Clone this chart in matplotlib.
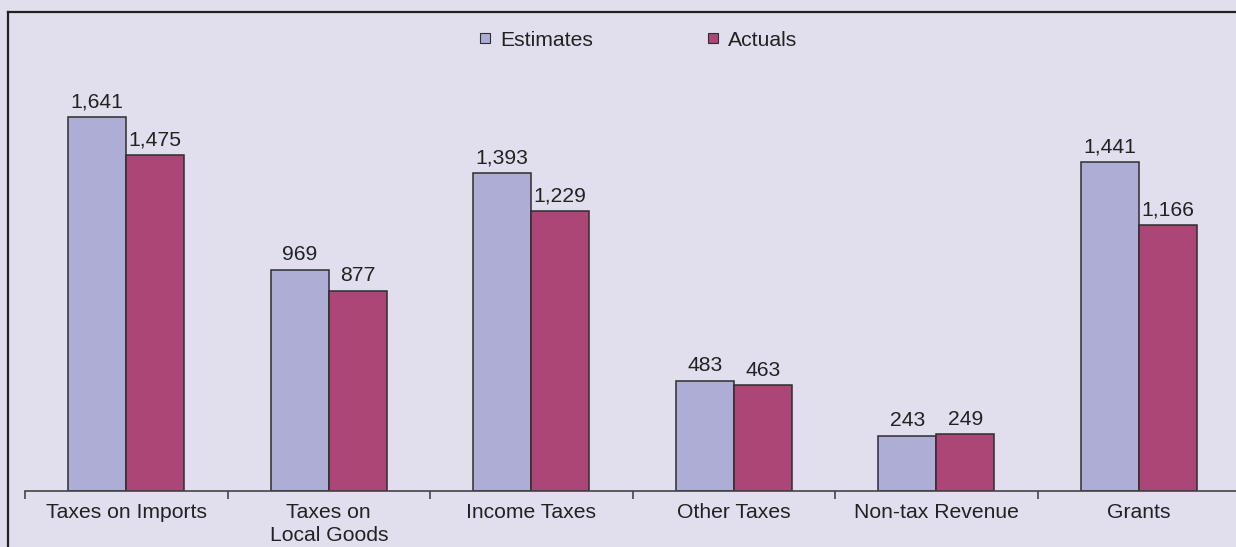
import matplotlib.pyplot as plt
from matplotlib.lines import Line2D
import numpy as np

# --------------------------------------------------
# DATA
# --------------------------------------------------

categories = ["Taxes on Imports", "Taxes on\nLocal Goods", "Income Taxes",
              "Other Taxes", "Non-tax Revenue", "Grants"]
estimates = [1641, 969, 1393, 483, 243, 1441]
actuals = [1475, 877, 1229, 463, 249, 1166]

BG = "#e1deee"
EST_COLOR = "#adadd6"
ACT_COLOR = "#ab4676"
EDGE = "#2e2e2e"
TEXT = "#222222"
FS = 15.2

plt.rcParams["font.family"] = ["Liberation Sans", "DejaVu Sans"]
plt.rcParams["font.size"] = FS

# --------------------------------------------------
# FIGURE
# --------------------------------------------------

W, H = 1236, 547
fig = plt.figure(figsize=(W / 100, H / 100), dpi=100, facecolor=BG)

# axes: baseline at y=491px, starts at x=25px, runs slightly past right edge
ax = fig.add_axes([25 / W, (H - 491) / H, 1215 / W, 479 / H])
ax.set_facecolor(BG)

x = np.arange(len(categories))
bw = 0.286

b1 = ax.bar(x - bw / 2, estimates, bw, color=EST_COLOR, edgecolor=EDGE,
            linewidth=1.1, label="Estimates")
b2 = ax.bar(x + bw / 2, actuals, bw, color=ACT_COLOR, edgecolor=EDGE,
            linewidth=1.1, label="Actuals")

for bars, vals in ((b1, estimates), (b2, actuals)):
    for rect, v in zip(bars, vals):
        ax.annotate(f"{v:,}", (rect.get_x() + rect.get_width() / 2, v),
                    xytext=(0, 4), textcoords="offset points",
                    ha="center", va="bottom", color=TEXT, fontsize=FS)

ax.set_xlim(-0.5, len(categories) - 0.5)
ax.set_ylim(0, 2100)

for side in ("top", "right", "left"):
    ax.spines[side].set_visible(False)
ax.spines["bottom"].set_color("#444444")
ax.spines["bottom"].set_linewidth(1.2)

ax.set_yticks([])
ax.set_xticks(x)
ax.set_xticklabels(categories, color=TEXT, linespacing=1.22)
ax.tick_params(axis="x", which="major", length=0, pad=9)
ax.set_xticks(np.arange(-0.5, len(categories), 1), minor=True)
ax.tick_params(axis="x", which="minor", length=6, width=1.2, color="#444444")

# legend along the top
handles = [
    Line2D([], [], marker="s", linestyle="none", markersize=6.5,
           markerfacecolor=EST_COLOR, markeredgecolor=EDGE, markeredgewidth=0.8),
    Line2D([], [], marker="s", linestyle="none", markersize=6.5,
           markerfacecolor=ACT_COLOR, markeredgecolor=EDGE, markeredgewidth=0.8),
]
leg = fig.legend(handles, ["Estimates", "Actuals"], loc="center",
                 bbox_to_anchor=(637 / W, 1 - 40 / H), ncol=2, frameon=False,
                 handlelength=0.8, handletextpad=0.3, columnspacing=5.3,
                 fontsize=FS)
for t in leg.get_texts():
    t.set_color(TEXT)

# outer frame, open to the right and bottom
fx, fy = 8 / W, 1 - 12 / H
fig.add_artist(Line2D([fx, fx], [-0.05, fy], color="#222222", linewidth=1.6))
fig.add_artist(Line2D([fx, 1.05], [fy, fy], color="#222222", linewidth=1.6))

fig.savefig("out.png", dpi=100, facecolor=BG)
